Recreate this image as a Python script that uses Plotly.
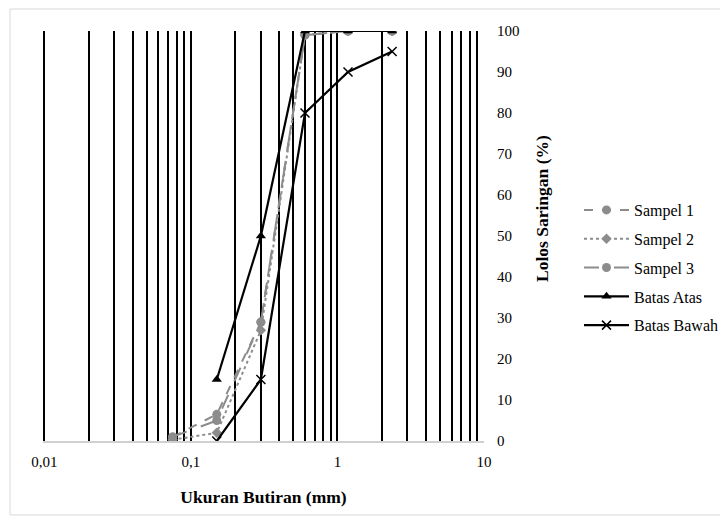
import plotly.graph_objects as go

sizes = [0.075, 0.15, 0.3, 0.6, 1.18, 2.36]
sampel1 = [1.0, 6.5, 29, 99, 100, 100]
sampel2 = [0.3, 2.0, 27, 99, 100, 100]
sampel3 = [1.0, 5.0, 29, 99, 100, 100]
batas_sizes = [0.15, 0.3, 0.6, 1.18, 2.36]
batas_atas = [15, 50, 100, 100, 100]
batas_bawah = [0, 15, 80, 90, 95]

grid_vals = [m * 10 ** e for e in (-2, -1, 0) for m in range(1, 10)] + [10]
decade_labels = {0.01: "0,01", 0.1: "0,1", 1: "1", 10: "10"}
x_ticktext = [decade_labels.get(round(v, 4), "") for v in grid_vals]
y_ticks = list(range(0, 101, 10))

grey = "#8c8c8c"
fig = go.Figure()
fig.add_trace(go.Scatter(x=sizes, y=sampel1, name="Sampel 1", mode="lines+markers",
                         line=dict(color=grey, width=2, dash="dash"),
                         marker=dict(symbol="circle", size=9, color=grey), legendgroup="a"))
fig.add_trace(go.Scatter(x=sizes, y=sampel2, name="Sampel 2", mode="lines+markers",
                         line=dict(color=grey, width=2, dash="dot"),
                         marker=dict(symbol="diamond", size=8, color=grey), legendgroup="b"))
fig.add_trace(go.Scatter(x=sizes, y=sampel3, name="Sampel 3", mode="lines+markers",
                         line=dict(color=grey, width=2, dash="longdash"),
                         marker=dict(symbol="circle", size=9, color=grey), legendgroup="c"))
fig.add_trace(go.Scatter(x=batas_sizes, y=batas_atas, name="Batas Atas", mode="lines+markers",
                         line=dict(color="black", width=2.2),
                         marker=dict(symbol="triangle-up", size=9, color="black"), legendgroup="d"))
fig.add_trace(go.Scatter(x=batas_sizes, y=batas_bawah, name="Batas Bawah", mode="lines+markers",
                         line=dict(color="black", width=2.2),
                         marker=dict(symbol="x-thin", size=9, color="black",
                                     line=dict(color="black", width=1.5)), legendgroup="e"))

fig.update_layout(
    width=720, height=508,
    margin=dict(l=35, r=244, t=23, b=75),
    paper_bgcolor="white", plot_bgcolor="white",
    font=dict(family="Liberation Serif", size=15, color="#000000"),
    showlegend=True,
    legend=dict(xref="container", yref="container", x=571 / 720, y=1 - 185 / 508,
                xanchor="left", yanchor="top",
                font=dict(size=16, color="#000"), tracegroupgap=5,
                itemwidth=45, bgcolor="rgba(0,0,0,0)"),
    xaxis=dict(type="log", range=[-2.01, 1], tickmode="array", tickvals=grid_vals,
               ticktext=x_ticktext, showgrid=True, gridcolor="black", gridwidth=1.5,
               showline=True, linecolor="#d0d0d0", linewidth=1.5, ticks="",
               zeroline=False, ticklabelstandoff=6, automargin=False,
               title=dict(text="<b>Ukuran Butiran (mm)</b>", font=dict(size=17.5), standoff=22)),
    yaxis=dict(range=[0, 100], side="right", tickmode="array", tickvals=y_ticks,
               showgrid=False, zeroline=False, showline=False, ticks="",
               ticklabelstandoff=12, automargin=False),
    annotations=[dict(text="<b>Lolos Saringan (%)</b>", xref="paper", yref="paper",
                      x=(542 - 43) / 441, y=(441 - 209) / 410, showarrow=False,
                      textangle=-90, font=dict(size=17.5), xanchor="center", yanchor="middle")],
    shapes=[dict(type="rect", xref="paper", yref="paper",
                 x0=-33 / 441, x1=684 / 441, y0=-74 / 410, y1=432 / 410,
                 line=dict(color="#d9d9d9", width=1), layer="below")],
)
fig.write_html("out.html")
